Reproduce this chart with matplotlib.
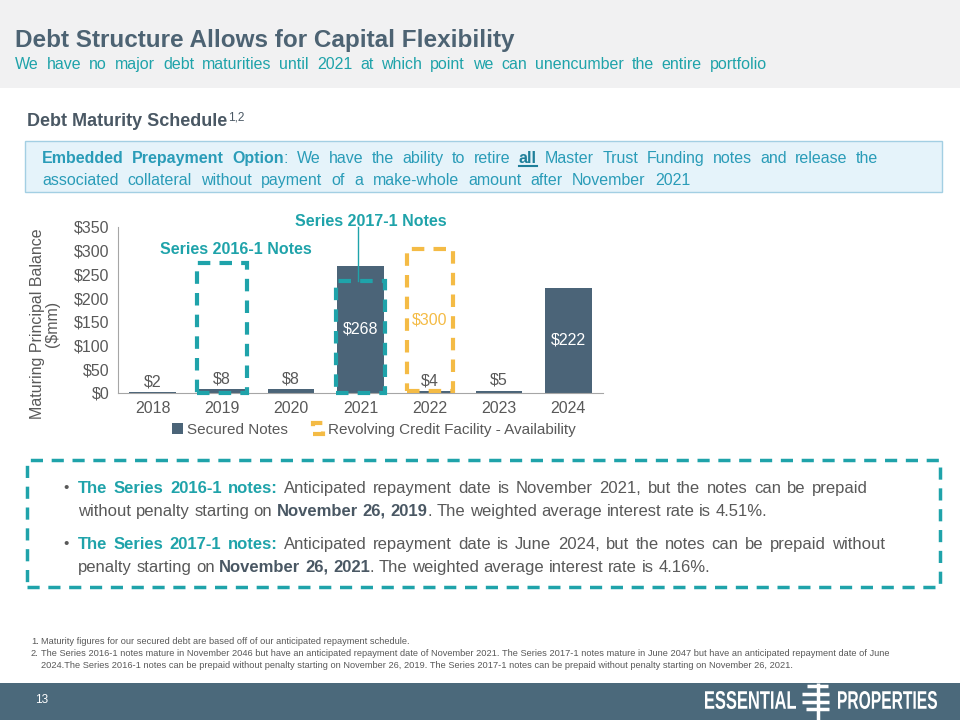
import matplotlib
matplotlib.use("Agg")
import matplotlib.pyplot as plt
from matplotlib.patches import Rectangle, PathPatch
from matplotlib.lines import Line2D
from matplotlib.ticker import FuncFormatter
from matplotlib.textpath import TextPath
from matplotlib.font_manager import FontProperties
from matplotlib.transforms import Affine2D

plt.rcParams["font.family"] = ["Liberation Sans", "DejaVu Sans"]

# data
years = ["2018", "2019", "2020", "2021", "2022", "2023", "2024"]
secured_notes = [2, 8, 8, 268, 4, 5, 222]
revolver_avail = [0, 0, 0, 0, 300, 0, 0]
series_2016_top = 275   # dashed outline around 2019
series_2017_top = 236   # dashed outline around 2021
yticks = [0, 50, 100, 150, 200, 250, 300, 350]

TITLE = "#4d6373"
TEAL = "#1fa3aa"
BLUE_TEAL = "#2a9cb8"
BAR = "#4b6478"
YELLOW = "#f4bb45"
GRAY = "#595959"
DARK = "#4a5864"
FOOT = "#4b697b"

W, H = 960, 720
fig = plt.figure(figsize=(9.6, 7.2), dpi=100)
renderer = fig.canvas.get_renderer()


def fx(px):
    return px / W


def fy(py):
    return 1 - py / H


def text_width(s, **kw):
    t = fig.text(0, 0, s, **kw)
    w = t.get_window_extent(renderer).width
    t.remove()
    return w


def draw_line(x, y, parts, size, target=None, gapscale=1.0):
    # lay out styled words one by one on a common baseline;
    # stretch the gaps to a target width if given
    tokens = []
    for i, (s, color, weight) in enumerate(parts):
        for j, wd in enumerate(s.split()):
            joined = j == 0 and i > 0 and not s[0].isspace() and not parts[i - 1][0][-1].isspace()
            tokens.append((wd, color, weight, joined))
    widths = [text_width(t[0], fontsize=size, fontweight=t[2]) for t in tokens]
    space = text_width("x x", fontsize=size) - text_width("xx", fontsize=size)
    ngaps = sum(1 for t in tokens[1:] if not t[3])
    if target:
        gap = (target - sum(widths)) / ngaps
    else:
        gap = space * gapscale
    base = y + 0.36 * size * 100 / 72
    out = []
    for k, ((wd, color, weight, joined), w) in enumerate(zip(tokens, widths)):
        if k > 0 and not joined:
            x += gap
        fig.text(fx(x), fy(base), wd, fontsize=size, color=color, fontweight=weight,
                 va="baseline", ha="left")
        out.append((wd, x, w))
        x += w
    return out


def stretched(s, x0, x1, ytop, ybot, color="white"):
    # text path squeezed into a pixel box (condensed logo lettering)
    tp = TextPath((0, 0), s, size=10, prop=FontProperties(family="Liberation Sans", weight="bold"))
    ext = tp.get_extents()
    sx = (x1 - x0) / ext.width
    sy = (ybot - ytop) / ext.height
    tr = (Affine2D().translate(-ext.x0, -ext.y0).scale(sx / W, sy / H)
          .translate(x0 / W, 1 - ybot / H) + fig.transFigure)
    fig.patches.append(PathPatch(tp, transform=tr, facecolor=color, edgecolor="none"))


# header band
fig.patches.append(Rectangle((0, fy(88)), 1, 88 / H, transform=fig.transFigure,
                             facecolor="#f1f1f2", edgecolor="none", zorder=0))
fig.text(fx(15), fy(40), "Debt Structure Allows for Capital Flexibility", fontsize=17.5,
         fontweight="bold", color=TITLE, va="center")
draw_line(15, 63, [("We have no major debt maturities until 2021 at which point we can unencumber the entire portfolio",
                    TEAL, "normal")], 11.5, target=752)

t = fig.text(fx(27), fy(122), "Debt Maturity Schedule", fontsize=13,
             fontweight="bold", color=DARK, va="center")
w = t.get_window_extent(renderer).width
fig.text(fx(27 + w + 1), fy(117), "1,2", fontsize=8.5, color=DARK, va="center")

# prepayment box
fig.patches.append(Rectangle((fx(25), fy(192)), fx(917), 51 / H, transform=fig.transFigure,
                             facecolor="#e5f3fa", edgecolor="#a3cfe3", linewidth=1, zorder=0))
parts = [("Embedded Prepayment Option", BLUE_TEAL, "bold"),
         (": We have the ability to retire ", BLUE_TEAL, "normal"),
         ("all", "#1f7f9a", "bold"),
         (" Master Trust Funding notes and release the", BLUE_TEAL, "normal")]
for wd, start, w in draw_line(42, 157, parts, 11.5, target=836):
    if wd == "all":
        fig.lines.append(Line2D([fx(start), fx(start + w)], [fy(166), fy(166)],
                                transform=fig.transFigure, color="#1f7f9a", lw=1.5))
draw_line(42, 179, [("associated collateral without payment of a make-whole amount after November 2021",
                     BLUE_TEAL, "normal")], 11.5, target=648)

# chart
ax = fig.add_axes([fx(118), 1 - 393 / H, fx(603 - 118), (393 - 227) / H])
x = list(range(len(years)))
bw = 0.67
ax.bar(x, secured_notes, width=bw, color=BAR, label="Secured Notes", zorder=2)
rx = [i for i, v in zip(x, revolver_avail) if v]
ax.bar(rx, [revolver_avail[i] for i in rx], width=bw, bottom=[secured_notes[i] for i in rx],
       fill=False, edgecolor=YELLOW, linestyle=(0, (3, 2.2)), linewidth=3,
       label="Revolving Credit Facility - Availability", zorder=3)

for i, v in enumerate(secured_notes):
    if v > 100:
        ax.text(i, v / 2, f"${v}", ha="center", va="center", color="white", fontsize=11.5)
    else:
        ax.annotate(f"${v}", (i, v), xytext=(0, 2), textcoords="offset points",
                    ha="center", va="bottom", color=GRAY, fontsize=11.5)
for i in rx:
    ax.text(i, secured_notes[i] + revolver_avail[i] / 2, f"${revolver_avail[i]}",
            ha="center", va="center", color=YELLOW, fontsize=11.5)

for i, top in [(1, series_2016_top), (3, series_2017_top)]:
    ax.add_patch(Rectangle((i - 0.36, 1), 0.72, top - 1, fill=False, edgecolor=TEAL,
                           linestyle=(0, (3, 2.2)), linewidth=3, zorder=4, clip_on=False))
ax.text(1.2, 303, "Series 2016-1 Notes", ha="center", va="center", color=TEAL,
        fontsize=11.5, fontweight="bold")
ax.text(3.15, 362, "Series 2017-1 Notes", ha="center", va="center", color=TEAL,
        fontsize=11.5, fontweight="bold", clip_on=False)
ax.plot([2.97, 2.97], [349, series_2017_top], color=TEAL, lw=1, zorder=5, clip_on=False)

ax.set_xlim(-0.5, 6.5)
ax.set_ylim(0, 350)
ax.set_xticks(x)
ax.set_xticklabels(years)
ax.set_yticks(yticks)
ax.yaxis.set_major_formatter(FuncFormatter(lambda v, _: f"${v:.0f}"))
ax.tick_params(length=0, labelsize=11.5, colors=GRAY, pad=6)
for s in ["top", "right"]:
    ax.spines[s].set_visible(False)
for s in ["left", "bottom"]:
    ax.spines[s].set_color("#a6a6a6")
ax.set_facecolor("none")
fig.text(fx(45), fy(324), "Maturing Principal Balance\n($mm)", rotation=90,
         ha="center", va="center", color=GRAY, fontsize=11.5, linespacing=0.95)

ax.legend(loc="center", bbox_to_anchor=(fx(374), fy(430)),
          bbox_transform=fig.transFigure, ncol=2, frameon=False,
          fontsize=11, handlelength=0.7, handleheight=0.7, handletextpad=0.3,
          columnspacing=1.6, labelcolor=GRAY)

# bullet box
fig.patches.append(Rectangle((fx(27), fy(587)), fx(913), 127 / H, transform=fig.transFigure,
                             fill=False, edgecolor=TEAL, linestyle=(0, (3.5, 2.5)),
                             linewidth=2.5))
bullets = [
    ([("The Series 2016-1 notes:", TEAL, "bold"),
      (" Anticipated repayment date is November 2021, but the notes can be prepaid", GRAY, "normal")],
     [("without penalty starting on ", GRAY, "normal"), ("November 26, 2019", DARK, "bold"),
      (". The weighted average interest rate is 4.51%.", GRAY, "normal")], 868),
    ([("The Series 2017-1 notes:", TEAL, "bold"),
      (" Anticipated repayment date is June 2024, but the notes can be prepaid without", GRAY, "normal")],
     [("penalty starting on ", GRAY, "normal"), ("November 26, 2021", DARK, "bold"),
      (". The weighted average interest rate is 4.16%.", GRAY, "normal")], 885),
]
for (line1, line2, right), y0 in zip(bullets, [487, 543]):
    fig.text(fx(63), fy(y0 + 5), "\u2022", fontsize=11, color=GRAY, va="baseline")
    draw_line(78, y0, line1, 12, target=right - 78)
    draw_line(78, y0 + 23, line2, 12)

# footnotes
foot = [
    (641, "1.", "Maturity figures for our secured debt are based off of our anticipated repayment schedule."),
    (653, "2.", "The Series 2016-1 notes mature in November 2046 but have an anticipated repayment date of November 2021. The Series 2017-1 notes mature in June 2047 but have an anticipated repayment date of June"),
    (665, "", "2024.The Series 2016-1 notes can be prepaid without penalty starting on November 26, 2019. The Series 2017-1 notes can be prepaid without penalty starting on November 26, 2021."),
]
for y0, num, s in foot:
    if num:
        fig.text(fx(31), fy(y0), num, fontsize=6.7, color=GRAY, va="center")
    fig.text(fx(41), fy(y0), s, fontsize=6.7, color=GRAY, va="center")

# footer band
fig.patches.append(Rectangle((0, 0), 1, 37 / H, transform=fig.transFigure,
                             facecolor=FOOT, edgecolor="none", zorder=0))
fig.text(fx(35), fy(700), "13", fontsize=8.5, color="white", va="center")
stretched("ESSENTIAL", 705, 796, 691, 709)
stretched("PROPERTIES", 838, 937, 691, 709)
fig.lines.append(Line2D([fx(817.5), fx(817.5)], [fy(683), fy(720)], transform=fig.transFigure,
                        color="white", lw=2.5, solid_capstyle="butt"))
for yy, x0, x1 in [(686, 807, 828), (694, 802, 829), (702, 802, 829), (709, 806, 829)]:
    fig.lines.append(Line2D([fx(x0), fx(x1)], [fy(yy), fy(yy)], transform=fig.transFigure,
                            color="white", lw=2.5, solid_capstyle="butt"))

fig.savefig("out.png", dpi=100)
